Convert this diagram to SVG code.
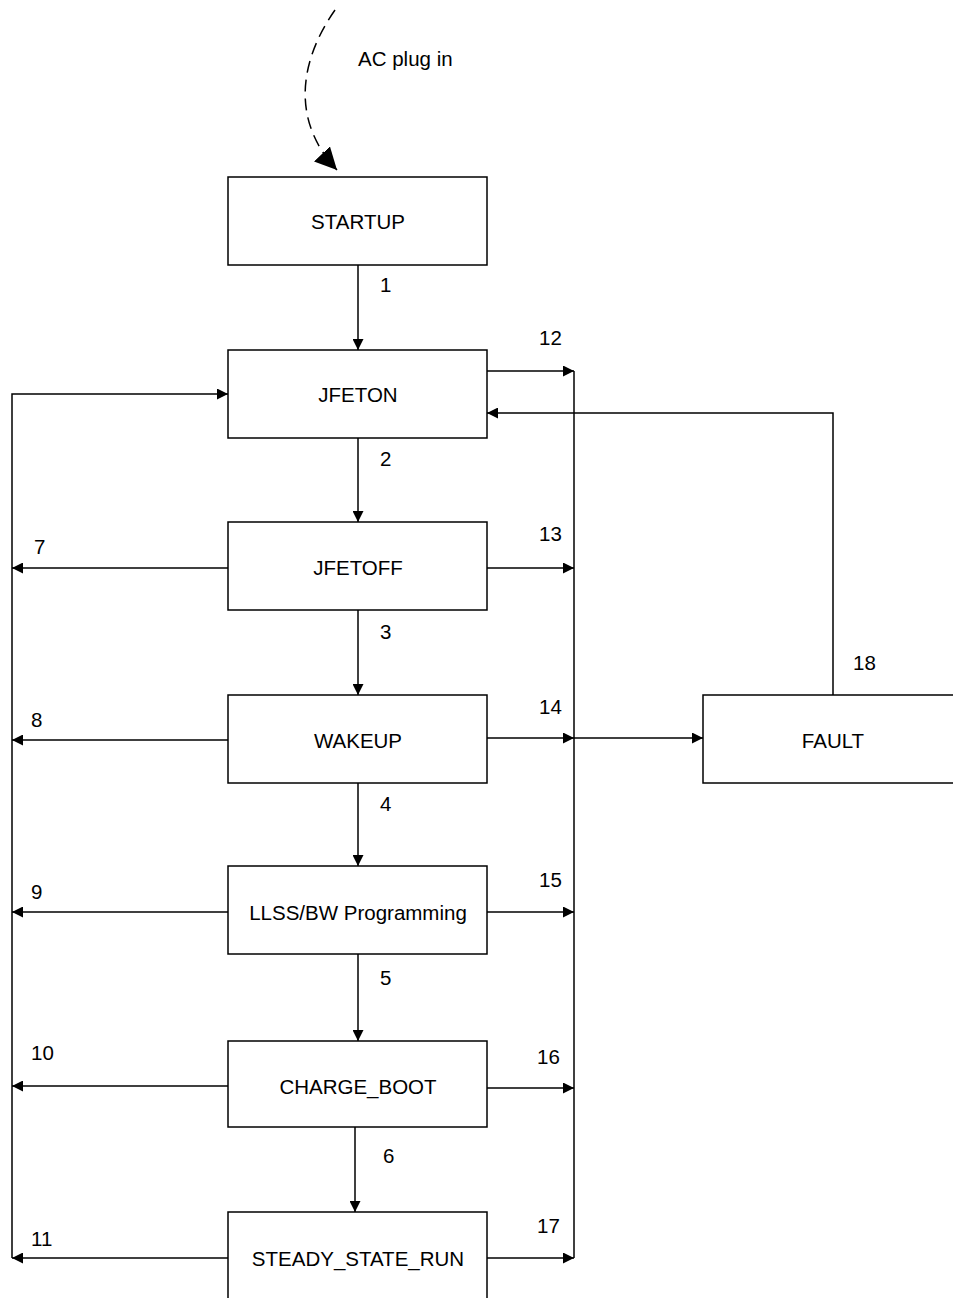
<svg xmlns="http://www.w3.org/2000/svg" width="953" height="1298" viewBox="0 0 953 1298">
<style>
.box{fill:#fff;stroke:#000;stroke-width:1.5}
.ln{fill:none;stroke:#000;stroke-width:1.5}
.t{font-family:"Liberation Sans",Arial,sans-serif;font-size:20.5px;fill:#000}
.c{text-anchor:middle}
</style>
<defs>
<marker id="ah" viewBox="0 0 10 10" refX="10" refY="5" markerWidth="11" markerHeight="11" markerUnits="userSpaceOnUse" orient="auto">
<path d="M0,0 L10,5 L0,10 Z" fill="#000"/>
</marker>
<marker id="big" viewBox="0 0 10 10" refX="10" refY="5" markerWidth="22" markerHeight="22" markerUnits="userSpaceOnUse" orient="auto">
<path d="M0,0 L10,5 L0,10 Z" fill="#000"/>
</marker>
</defs>
<rect width="953" height="1298" fill="#fff"/>
<g id="connectors">
<path class="ln" d="M335,10 C300,60 290,120 337,170" stroke-dasharray="12,7" marker-end="url(#big)"/>
<path class="ln" d="M358,265 V350" marker-end="url(#ah)"/>
<path class="ln" d="M358,438 V522" marker-end="url(#ah)"/>
<path class="ln" d="M358,610 V695" marker-end="url(#ah)"/>
<path class="ln" d="M358,783 V866" marker-end="url(#ah)"/>
<path class="ln" d="M358,954 V1041" marker-end="url(#ah)"/>
<path class="ln" d="M355,1127 V1212" marker-end="url(#ah)"/>
<path class="ln" d="M12,1258 V394 H228" marker-end="url(#ah)"/>
<path class="ln" d="M228,568 H12" marker-end="url(#ah)"/>
<path class="ln" d="M228,740 H12" marker-end="url(#ah)"/>
<path class="ln" d="M228,912 H12" marker-end="url(#ah)"/>
<path class="ln" d="M228,1086 H12" marker-end="url(#ah)"/>
<path class="ln" d="M228,1258 H12" marker-end="url(#ah)"/>
<path class="ln" d="M574,371 V1258"/>
<path class="ln" d="M487,371 H574" marker-end="url(#ah)"/>
<path class="ln" d="M487,568 H574" marker-end="url(#ah)"/>
<path class="ln" d="M487,738 H574" marker-end="url(#ah)"/>
<path class="ln" d="M487,912 H574" marker-end="url(#ah)"/>
<path class="ln" d="M487,1088 H574" marker-end="url(#ah)"/>
<path class="ln" d="M487,1258 H574" marker-end="url(#ah)"/>
<path class="ln" d="M574,738 H703" marker-end="url(#ah)"/>
<path class="ln" d="M833,695 V413 H487" marker-end="url(#ah)"/>
</g>
<g id="labels" class="t">
<text x="358" y="66">AC plug in</text>
<text x="380" y="292">1</text>
<text x="380" y="466">2</text>
<text x="380" y="639">3</text>
<text x="380" y="811">4</text>
<text x="380" y="985">5</text>
<text x="383" y="1163">6</text>
<text x="34" y="554">7</text>
<text x="31" y="727">8</text>
<text x="31" y="899">9</text>
<text x="31" y="1060">10</text>
<text x="31" y="1246">11</text>
<text x="539" y="345">12</text>
<text x="539" y="541">13</text>
<text x="539" y="714">14</text>
<text x="539" y="887">15</text>
<text x="537" y="1064">16</text>
<text x="537" y="1233">17</text>
<text x="853" y="670">18</text>
</g>
<g id="startup"><rect class="box" x="228" y="177" width="259" height="88"/><text class="t c" x="358" y="229">STARTUP</text></g>
<g id="jfeton"><rect class="box" x="228" y="350" width="259" height="88"/><text class="t c" x="358" y="402">JFETON</text></g>
<g id="jfetoff"><rect class="box" x="228" y="522" width="259" height="88"/><text class="t c" x="358" y="575">JFETOFF</text></g>
<g id="wakeup"><rect class="box" x="228" y="695" width="259" height="88"/><text class="t c" x="358" y="748">WAKEUP</text></g>
<g id="llss"><rect class="box" x="228" y="866" width="259" height="88"/><text class="t c" x="358" y="920">LLSS/BW Programming</text></g>
<g id="chargeboot"><rect class="box" x="228" y="1041" width="259" height="86"/><text class="t c" x="358" y="1094">CHARGE_BOOT</text></g>
<g id="steady"><rect class="box" x="228" y="1212" width="259" height="100"/><text class="t c" x="358" y="1266">STEADY_STATE_RUN</text></g>
<g id="fault"><rect class="box" x="703" y="695" width="270" height="88"/><text class="t c" x="833" y="748">FAULT</text></g>
</svg>
